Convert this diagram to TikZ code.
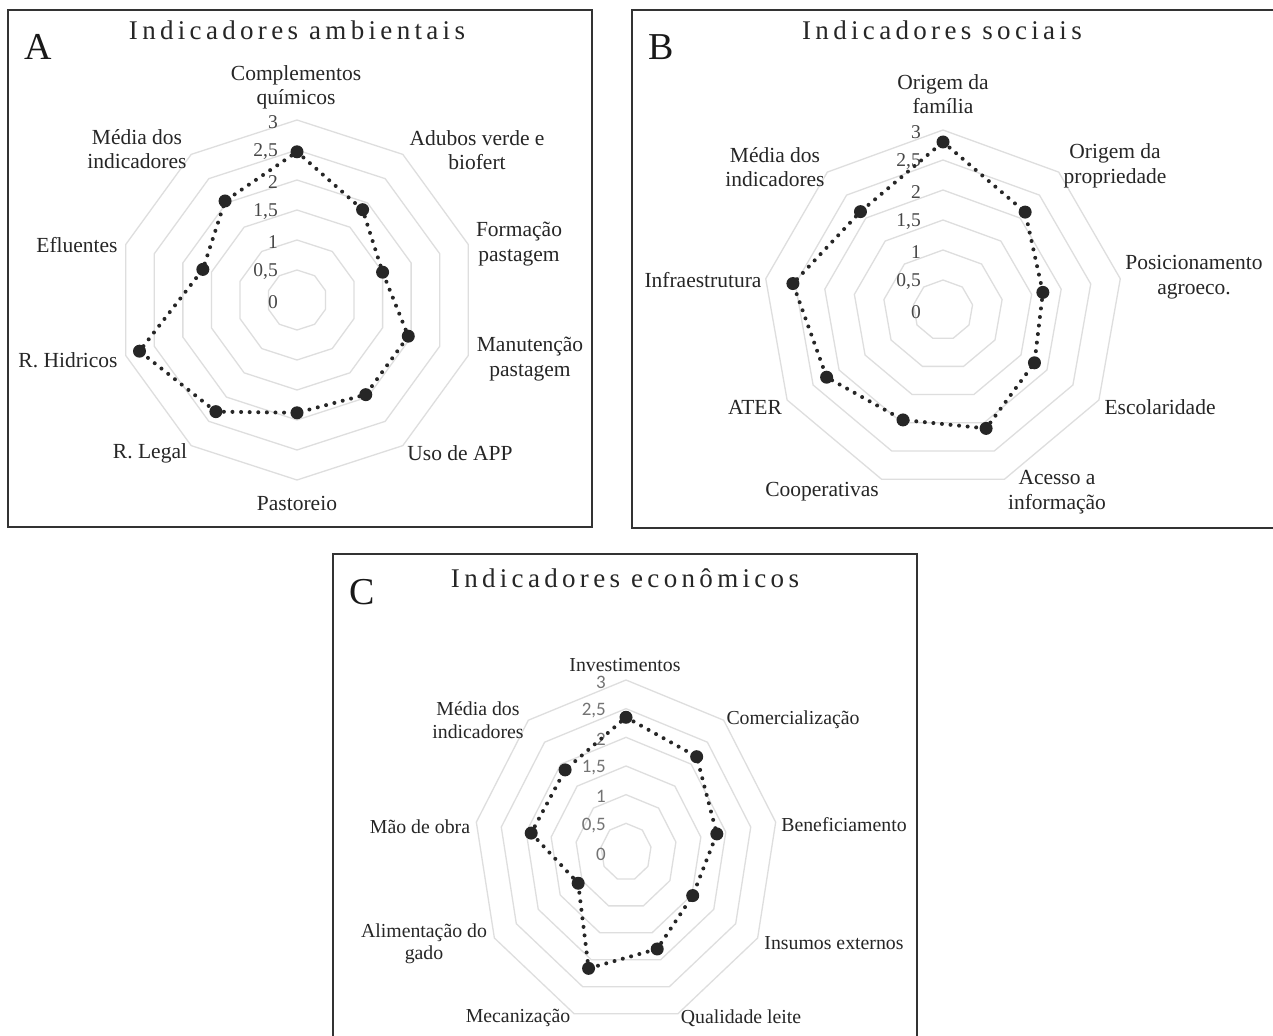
\documentclass[tikz,border=0pt]{standalone}
\usepackage{fontspec}
\setmainfont{Liberation Serif}
\newfontfamily\titlefont[LetterSpace=16]{Liberation Serif}
\newfontfamily\valfontC{Carlito}
\tikzset{
 ring/.style={draw=black!13, line width=1.3pt},
 panelbox/.style={draw=black!80, line width=2pt},
 datal/.style={draw=black!85, line width=4pt, line cap=round, dash pattern=on 0pt off 8.6pt},
 datadot/.style={circle, fill=black!85, inner sep=0pt, minimum size=13pt},
 lab/.style={font=\fontsize{21.5}{24.5}\selectfont, text=black!85, align=center, inner sep=0pt},
 labC/.style={font=\fontsize{19.8}{22.5}\selectfont, text=black!85, align=center, inner sep=0pt},
 val/.style={font=\fontsize{19.5}{20}\selectfont, text=black!72, anchor=east, inner sep=0pt},
 valC/.style={font=\valfontC\fontsize{19}{20}\selectfont, text=black!55, anchor=east, inner sep=0pt},
 ttl/.style={font=\titlefont\fontsize{27}{30}\selectfont, text=black!85, inner sep=0pt},
 bigletter/.style={font=\fontsize{38}{40}\selectfont, text=black!90, inner sep=0pt},
}
\begin{document}
\begin{tikzpicture}[x=1pt,y=-1pt]
\useasboundingbox (0,0) rectangle (1273,1035);
\fill[white] (0,0) rectangle (1273,1035);

% ---------------- Panel A ----------------
\draw[panelbox] (8,10) rectangle (592,527);
\node[bigletter] (letA) at (38,47) {A};
\node[ttl] (titA) at (297,30) {Indicadores ambientais};
\foreach \f in {1,...,6}
  \draw[ring] plot[samples at={90,54,...,-234}] ({297+30*\f*cos(\x)},{300-30*\f*sin(\x)}) -- cycle;
\foreach \t [count=\i from 0] in {0,{0,5},1,{1,5},2,{2,5},3}
  \node[val] (va\i) at (278,{302-30*\i}) {\t};
\foreach \v [count=\i from 0] in {2.47,1.86,1.5,1.95,1.95,1.88,2.3,2.76,1.65,2.04}
  \coordinate (a\i) at ({297+60*\v*cos(90-36*\i)},{300-60*\v*sin(90-36*\i)});
\draw[datal] (a0) -- (a1) -- (a2) -- (a3) -- (a4) -- (a5) -- (a6) -- (a7) -- (a8) -- (a9) -- cycle;
\foreach \i in {0,...,9} \node[datadot] (da\i) at (a\i) {};
\node[lab] (la0) at (296,87.5) {Complementos\\químicos};
\node[lab] (la1) at (477,150) {Adubos verde e\\biofert};
\node[lab] (la2) at (519,244) {Formação\\pastagem};
\node[lab] (la3) at (530,359) {Manutenção\\pastagem};
\node[lab] (la4) at (460,453) {Uso de APP};
\node[lab] (la5) at (297,503) {Pastoreio};
\node[lab] (la6) at (150,453) {R. Legal};
\node[lab] (la7) at (68,360) {R. Hidricos};
\node[lab] (la8) at (77,245) {Efluentes};
\node[lab] (la9) at (137,149) {Média dos\\indicadores};

% ---------------- Panel B ----------------
\draw[panelbox] (1276,10) -- (632,10) -- (632,528) -- (1276,528);
\node[bigletter] (letB) at (661,47) {B};
\node[ttl] (titB) at (942,30) {Indicadores sociais};
\foreach \f in {1,...,6}
  \draw[ring] plot[samples at={90,50,...,-230}] ({943+30*\f*cos(\x)},{310-30*\f*sin(\x)}) -- cycle;
\foreach \t [count=\i from 0] in {0,{0,5},1,{1,5},2,{2,5},3}
  \node[val] (vb\i) at (921,{312-30*\i}) {\t};
\foreach \v [count=\i from 0] in {2.8,2.13,1.69,1.76,2.1,1.95,2.24,2.54,2.14}
  \coordinate (b\i) at ({943+60*\v*cos(90-40*\i)},{310-60*\v*sin(90-40*\i)});
\draw[datal] (b0) -- (b1) -- (b2) -- (b3) -- (b4) -- (b5) -- (b6) -- (b7) -- (b8) -- cycle;
\foreach \i in {0,...,8} \node[datadot] (db\i) at (b\i) {};
\node[lab] (lb0) at (943,94) {Origem da\\família};
\node[lab] (lb1) at (1115,166) {Origem da\\propriedade};
\node[lab] (lb2) at (1194,277) {Posicionamento\\agroeco.};
\node[lab] (lb3) at (1160,407) {Escolaridade};
\node[lab] (lb4) at (1057,492) {Acesso a\\informação};
\node[lab] (lb5) at (822,492) {Cooperativas};
\node[lab] (lb6) at (755,407) {ATER};
\node[lab] (lb7) at (703,280) {Infraestrutura};
\node[lab] (lb8) at (775,167) {Média dos\\indicadores};

% ---------------- Panel C ----------------
\draw[panelbox] (333,1040) -- (333,554) -- (917,554) -- (917,1040);
\node[bigletter] (letC) at (362,592) {C};
\node[ttl] (titC) at (625,578) {Indicadores econômicos};
\foreach \f in {1,...,6}
  \draw[ring] plot[samples at={90,50,...,-230}] ({626+25.33*\f*cos(\x)},{852-28.67*\f*sin(\x)}) -- cycle;
\foreach \t [count=\i from 0] in {0,{0,5},1,{1,5},2,{2,5},3}
  \node[valC] (vc\i) at (606,{854-28.67*\i}) {\t};
\foreach \v [count=\i from 0] in {2.35,2.17,1.82,1.52,1.8,2.16,1.09,1.9,1.87}
  \coordinate (c\i) at ({626+50.67*\v*cos(90-40*\i)},{852-57.33*\v*sin(90-40*\i)});
\draw[datal] (c0) -- (c1) -- (c2) -- (c3) -- (c4) -- (c5) -- (c6) -- (c7) -- (c8) -- cycle;
\foreach \i in {0,...,8} \node[datadot] (dc\i) at (c\i) {};
\node[labC] (lc0) at (625,665) {Investimentos};
\node[labC] (lc1) at (793,720) {Comercialização};
\node[labC] (lc2) at (844,825) {Beneficiamento};
\node[labC] (lc3) at (834,943) {Insumos externos};
\node[labC] (lc4) at (741,1018) {Qualidade leite};
\node[labC] (lc5) at (518,1018) {Mecanização};
\node[labC] (lc6) at (424,944) {Alimentação do\\gado};
\node[labC] (lc7) at (420,827) {Mão de obra};
\node[labC] (lc8) at (478,720) {Média dos\\indicadores};
\end{tikzpicture}
\end{document}
